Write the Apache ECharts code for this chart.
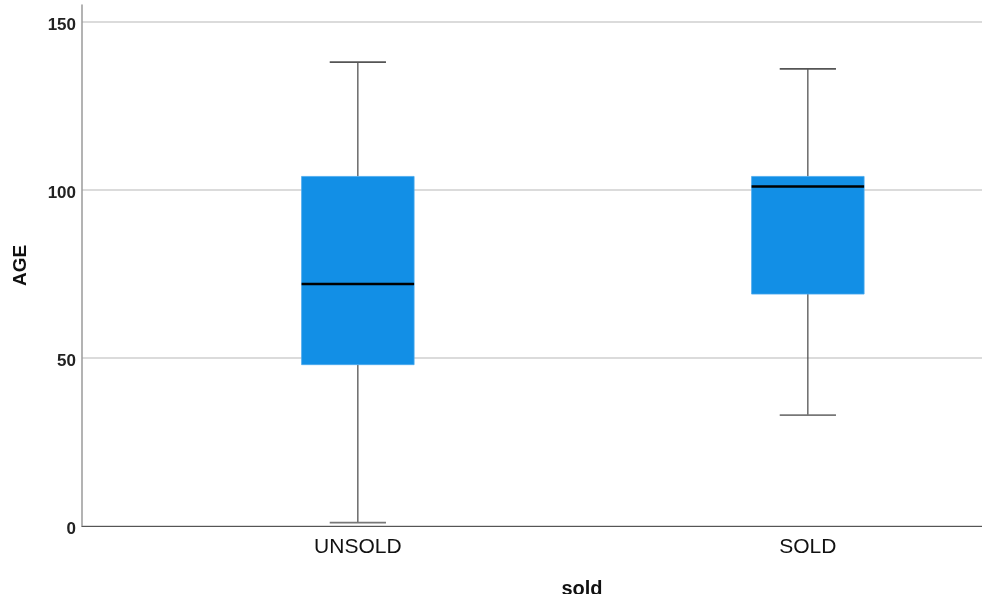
<!DOCTYPE html>
<html>
<head>
<meta charset="utf-8">
<script src="https://cdn.jsdelivr.net/npm/echarts@6/dist/echarts.min.js"></script>
<style>html,body{margin:0;padding:0;background:#fff}#c{width:982px;height:594px}</style>
</head>
<body>
<div id="c"></div>
<script>
// Data
const categories = ['UNSOLD', 'SOLD'];
const whiskerLow  = [1, 33];
const q1Values    = [48, 69];
const medians     = [72, 101];
const q3Values    = [104, 104];
const whiskerHigh = [138, 136];
const yTicks      = [0, 50, 100, 150];

const boxData = categories.map((c, i) => [i, whiskerLow[i], q1Values[i], medians[i], q3Values[i], whiskerHigh[i]]);
const catPositions = categories.map((c, i) => i);

const chart = echarts.init(document.getElementById('c'), null, {renderer: 'canvas'});
const FONT = '"Liberation Sans", Arial, sans-serif';

function renderBox(params, api) {
  const x = api.value(0);
  const lo = api.coord([x, api.value(1)]);
  const q1 = api.coord([x, api.value(2)]);
  const md = api.coord([x, api.value(3)]);
  const q3 = api.coord([x, api.value(4)]);
  const hi = api.coord([x, api.value(5)]);
  const unit = api.size([1, 0])[0];
  const bw = unit * 0.25;
  const cw = bw * 0.5;
  const cx = lo[0];
  const wStyle = {stroke: '#454545', lineWidth: 1.2};
  return {
    type: 'group',
    children: [
      {type: 'line', shape: {x1: cx, y1: hi[1], x2: cx, y2: q3[1]}, style: wStyle},
      {type: 'line', shape: {x1: cx, y1: q1[1], x2: cx, y2: lo[1]}, style: wStyle},
      {type: 'line', shape: {x1: cx - cw / 2, y1: hi[1], x2: cx + cw / 2, y2: hi[1]}, style: {stroke: '#555', lineWidth: 1.6}},
      {type: 'line', shape: {x1: cx - cw / 2, y1: lo[1], x2: cx + cw / 2, y2: lo[1]}, style: {stroke: '#777', lineWidth: 1.6}},
      {type: 'rect', shape: {x: cx - bw / 2, y: q3[1], width: bw, height: q1[1] - q3[1]}, style: {fill: '#128FE6', stroke: '#4aa8ee', lineWidth: 0.8}},
      {type: 'line', shape: {x1: cx - bw / 2, y1: md[1], x2: cx + bw / 2, y2: md[1]}, style: {stroke: '#000', lineWidth: 2.4}}
    ]
  };
}

const option = {
  backgroundColor: '#fff',
  animation: false,
  grid: {left: 82, top: 5, right: 0, bottom: 68, containLabel: false, outerBoundsMode: 'none'},
  xAxis: {
    type: 'value', min: -0.613, max: 1.387,
    axisLine: {show: true, onZero: false, lineStyle: {color: '#555', width: 1.2}},
    axisTick: {show: false},
    splitLine: {show: false},
    axisLabel: {
      customValues: catPositions,
      formatter: v => categories[Math.round(v)] || '',
      color: '#111', fontFamily: FONT, fontSize: 21, margin: 11
    },
    name: 'sold', nameLocation: 'middle', nameGap: 53,
    nameTextStyle: {color: '#111', fontFamily: FONT, fontSize: 20, fontWeight: 'bold', padding: [0, 0, 0, 100]}
  },
  yAxis: {
    type: 'value', min: yTicks[0], max: 155, interval: 50,
    axisLine: {show: true, onZero: false, lineStyle: {color: '#9a9a9a', width: 1.5}},
    axisTick: {show: false},
    axisLabel: {color: '#222', fontFamily: FONT, fontSize: 17, fontWeight: 'bold', margin: 6, showMaxLabel: false,
      verticalAlign: 'top', lineHeight: 7},
    splitLine: {show: true, showMaxLine: false, lineStyle: {color: '#cfcfcf', width: 1.5}},
    name: 'AGE', nameLocation: 'middle', nameGap: 52, nameRotate: 90,
    nameTextStyle: {color: '#111', fontFamily: FONT, fontSize: 19, fontWeight: 'bold'}
  },
  series: [{
    type: 'custom',
    renderItem: renderBox,
    encode: {x: 0, y: [1, 2, 3, 4, 5]},
    data: boxData,
    z: 5
  }]
};
chart.setOption(option);
</script>
</body>
</html>
